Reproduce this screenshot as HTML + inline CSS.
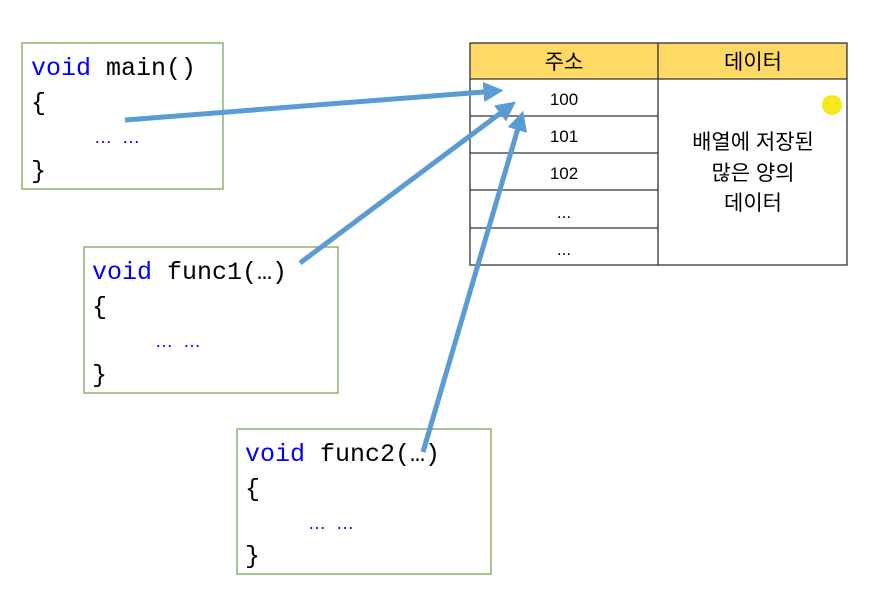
<!DOCTYPE html>
<html><head><meta charset="utf-8"><style>html,body{margin:0;padding:0;background:#fff}</style></head>
<body>
<svg width="871" height="593" xmlns="http://www.w3.org/2000/svg">
<defs>
<marker id="ah" markerWidth="4" markerHeight="4" refX="2.5" refY="2" orient="auto" markerUnits="strokeWidth">
<path d="M0,0 L4,2 L0,4 z" fill="#5b9bd5"/>
</marker>
</defs>
<!-- table -->
<rect x="470" y="43" width="377" height="36" fill="#ffd966"/>
<g stroke="#333" stroke-width="1.3" fill="none">
<rect x="470" y="43" width="377" height="222"/>
<line x1="470" y1="79" x2="847" y2="79"/>
<line x1="658" y1="43" x2="658" y2="265"/>
<line x1="470" y1="116" x2="658" y2="116"/>
<line x1="470" y1="153" x2="658" y2="153"/>
<line x1="470" y1="190" x2="658" y2="190"/>
<line x1="470" y1="228" x2="658" y2="228"/>
</g>
<g font-family="Liberation Sans, Noto Sans CJK KR, sans-serif" text-anchor="middle" fill="#000">
<text x="564" y="69" font-size="21">주소</text>
<text x="753" y="69" font-size="21">데이터</text>
<text x="564" y="105" font-size="17">100</text>
<text x="564" y="142" font-size="17">101</text>
<text x="564" y="179" font-size="17">102</text>
<text x="564" y="218" font-size="17">...</text>
<text x="564" y="255" font-size="17">...</text>
<text x="753" y="149" font-size="21">배열에 저장된</text>
<text x="753" y="180" font-size="21">많은 양의</text>
<text x="753" y="210" font-size="21">데이터</text>
</g>
<circle cx="832" cy="105" r="10" fill="#f5e400" opacity="0.9"/>
<!-- code boxes -->
<g fill="#fff" stroke="#8cb06a" stroke-width="1.5">
<rect x="22" y="43" width="201" height="146"/>
<rect x="84" y="247" width="254" height="146"/>
<rect x="237" y="429" width="254" height="145"/>
</g>
<g font-family="Liberation Mono, DejaVu Sans Mono, monospace" font-size="25" fill="#000">
<text x="31" y="75"><tspan fill="#0000ff">void</tspan> main()</text>
<text x="31" y="110">{</text>
<text x="31" y="178">}</text>
<text x="92" y="279"><tspan fill="#0000ff">void</tspan> func1(…)</text>
<text x="92" y="314">{</text>
<text x="92" y="382">}</text>
<text x="245" y="461"><tspan fill="#0000ff">void</tspan> func2(…)</text>
<text x="245" y="496">{</text>
<text x="245" y="563">}</text>
</g>
<g font-family="Liberation Sans, sans-serif" font-size="18" fill="#0000ff">
<text x="94" y="143">…&#160;&#160;…</text>
<text x="155" y="347">…&#160;&#160;…</text>
<text x="308" y="529">…&#160;&#160;…</text>
</g>
<!-- arrows -->
<g stroke="#5b9bd5" stroke-width="5" fill="none" marker-end="url(#ah)">
<line x1="125" y1="120" x2="496" y2="91"/>
<line x1="300" y1="263" x2="510" y2="106"/>
<line x1="423" y1="452" x2="521" y2="118"/>
</g>
</svg>
</body></html>
